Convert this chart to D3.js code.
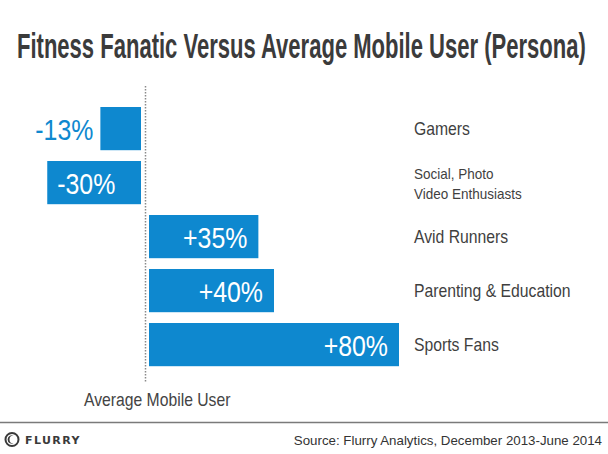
<!DOCTYPE html>
<html>
<head>
<meta charset="utf-8">
<script src="https://cdn.jsdelivr.net/npm/d3@7"></script>
<style>
  html, body { margin: 0; padding: 0; background: #fff; }
  svg { display: block; }
  .narrow { font-family: "Liberation Sans", Arial, sans-serif; }
</style>
</head>
<body>
<div id="chart"></div>
<script>
// Chart data
var categories = ['Gamers', 'Social, Photo|Video Enthusiasts', 'Avid Runners', 'Parenting & Education', 'Sports Fans'];
var values = [-13, -30, 35, 40, 80];
var valueLabels = ['-13%', '-30%', '+35%', '+40%', '+80%'];

var W = 608, H = 454,
	blue = '#0e88cf',
	zeroX = 145,
	gap = 4;

var svg = d3.select('#chart').append('svg')
	.attr('width', W)
	.attr('height', H);

// Places a text at (x, y) and squeezes it horizontally, the source font is condensed
function squeeze(t, x, y, sx) {
	t.attr('transform', 'translate(' + x + ',' + y + ') scale(' + sx + ',1)');
}

// Title, fitted to its width in the picture
var title = svg.append('text')
	.attr('class', 'narrow')
	.style('font-size', '35px')
	.style('font-weight', 'bold')
	.style('fill', '#3b3b3b')
	.text('Fitness Fanatic Versus Average Mobile User (Persona)');
squeeze(title, 17, 58, 569 / title.node().getComputedTextLength());

// Scales
var xScale = d3.scaleLinear()
	.domain([0, 80])
	.range([0, 250]);

var yScale = d3.scaleBand()
	.domain(categories)
	.range([101.6, 371.6])
	.paddingInner(0.2)
	.paddingOuter(0.1);

var data = categories.map(function(c, i) {
	return { cat: c, value: values[i], label: valueLabels[i] };
});

function barX(d) {
	return d.value < 0 ? zeroX - gap - xScale(-d.value) : zeroX + gap;
}

// Baseline (dotted)
svg.append('line')
	.attr('x1', zeroX + 0.5).attr('x2', zeroX + 0.5)
	.attr('y1', 86).attr('y2', 383)
	.attr('stroke', '#8a8a8a')
	.attr('stroke-width', 1.5)
	.attr('stroke-dasharray', '1.5,1.5');

// Bars
var gBars = svg.append('g').attr('class', 'bars');
gBars.selectAll('rect')
	.data(data)
	.enter()
	.append('rect')
	.attr('x', barX)
	.attr('y', function(d) { return yScale(d.cat); })
	.attr('width', function(d) { return xScale(Math.abs(d.value)); })
	.attr('height', yScale.bandwidth())
	.attr('fill', blue);

// Value labels
gBars.selectAll('text.value')
	.data(data)
	.enter()
	.append('text')
	.attr('class', 'value narrow')
	.style('font-size', '30px')
	.text(function(d) { return d.label; })
	.each(function(d) {
		var t = d3.select(this),
			w = xScale(Math.abs(d.value)),
			x0 = barX(d),
			y = yScale(d.cat) + yScale.bandwidth() / 2 + 11;
		if (w < 70) {
			// too small, put outside
			t.attr('text-anchor', 'end').style('fill', blue);
			squeeze(t, x0 - 7, y, 0.83);
		} else if (d.value < 0) {
			t.attr('text-anchor', 'start').style('fill', '#fff');
			squeeze(t, x0 + 10, y, 0.83);
		} else {
			t.attr('text-anchor', 'end').style('fill', '#fff');
			squeeze(t, x0 + w - 11, y, 0.83);
		}
	});

// Category labels
var gCats = svg.append('g').attr('class', 'cats');
gCats.selectAll('text')
	.data(data)
	.enter()
	.append('text')
	.attr('class', 'narrow')
	.style('fill', '#3f3f3f')
	.each(function(d) {
		var t = d3.select(this),
			lines = d.cat.split('|'),
			cy = yScale(d.cat) + yScale.bandwidth() / 2;
		if (lines.length === 1) {
			t.style('font-size', '17.5px').text(lines[0]);
			squeeze(t, 414, cy + 6.5, 0.9);
		} else {
			t.style('font-size', '15px');
			lines.forEach(function(l, i) {
				t.append('tspan')
					.attr('x', 0)
					.attr('y', i * 20)
					.text(l);
			});
			squeeze(t, 414, cy - 4, 0.9);
		}
	});

// Axis caption
var caption = svg.append('text')
	.attr('class', 'narrow')
	.style('font-size', '18.5px')
	.style('fill', '#444')
	.text('Average Mobile User');
squeeze(caption, 84, 406, 0.85);

// Footer rule
svg.append('line')
	.attr('x1', 0).attr('x2', W)
	.attr('y1', 422.5).attr('y2', 422.5)
	.attr('stroke', '#7a7a7a')
	.attr('stroke-width', 1.5);

// Flurry logo
var logo = svg.append('g').attr('transform', 'translate(12,439.5)');
logo.append('circle')
	.attr('r', 6.5)
	.attr('fill', 'none')
	.attr('stroke', '#3a3a3a')
	.attr('stroke-width', 2);
logo.append('path')
	.attr('d', 'M1.5,-4 A4.3,4.3 0 1,0 1.5,4 A3.2,3.2 0 1,1 1.5,-4 Z')
	.attr('fill', '#3a3a3a');
svg.append('text')
	.attr('x', 25)
	.attr('y', 444)
	.style('font-family', '"DejaVu Sans", sans-serif')
	.style('font-weight', 'bold')
	.style('font-size', '11px')
	.style('letter-spacing', '1.4px')
	.style('fill', '#3a3a3a')
	.text('FLURRY');

// Source
svg.append('text')
	.attr('x', 602)
	.attr('y', 445)
	.attr('text-anchor', 'end')
	.style('font-family', '"Liberation Sans", Arial, sans-serif')
	.style('font-size', '13.3px')
	.style('fill', '#333')
	.text('Source: Flurry Analytics, December 2013-June 2014');
</script>
</body>
</html>
